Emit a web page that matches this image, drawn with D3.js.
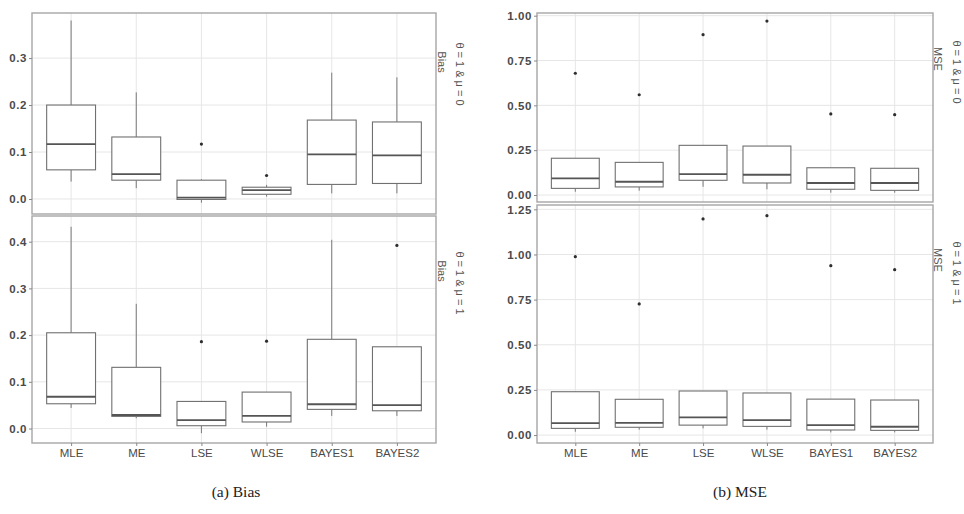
<!DOCTYPE html>
<html>
<head>
<meta charset="utf-8">
<script src="https://cdn.jsdelivr.net/npm/d3@7"></script>
<style>
  html, body { margin: 0; padding: 0; background: #fff; }
  svg { display: block; }
  .tick text { font-family: "Liberation Sans", Arial, sans-serif; }
</style>
</head>
<body>
<svg id="chart" width="964" height="514"></svg>
<script>
// Estimators compared on the x axis
const methods = ["MLE", "ME", "LSE", "WLSE", "BAYES1", "BAYES2"];

// Bias, theta = 1 & mu = 0 (box-plot summaries per estimator)
const biasMu0Low  = [0.037, 0.023, -0.008, 0.005, 0.012, 0.012];
const biasMu0Q1   = [0.062, 0.040, -0.001, 0.010, 0.031, 0.033];
const biasMu0Med  = [0.117, 0.053, 0.003, 0.019, 0.095, 0.093];
const biasMu0Q3   = [0.200, 0.132, 0.040, 0.025, 0.168, 0.164];
const biasMu0High = [0.380, 0.227, 0.042, 0.030, 0.269, 0.259];
const biasMu0Out  = [null, null, 0.117, 0.050, null, null];

// Bias, theta = 1 & mu = 1
const biasMu1Low  = [0.044, 0.022, -0.010, 0.004, 0.027, 0.027];
const biasMu1Q1   = [0.053, 0.026, 0.006, 0.014, 0.041, 0.038];
const biasMu1Med  = [0.068, 0.029, 0.018, 0.027, 0.052, 0.050];
const biasMu1Q3   = [0.205, 0.131, 0.058, 0.078, 0.191, 0.175];
const biasMu1High = [0.432, 0.267, 0.058, 0.078, 0.404, 0.175];
const biasMu1Out  = [null, null, 0.186, 0.187, null, 0.392];

// MSE, theta = 1 & mu = 0
const mseMu0Low  = [0.018, 0.024, 0.046, 0.032, 0.013, 0.013];
const mseMu0Q1   = [0.037, 0.045, 0.082, 0.067, 0.032, 0.026];
const mseMu0Med  = [0.093, 0.074, 0.117, 0.113, 0.067, 0.067];
const mseMu0Q3   = [0.205, 0.182, 0.277, 0.273, 0.152, 0.149];
const mseMu0High = [0.205, 0.182, 0.277, 0.273, 0.152, 0.149];
const mseMu0Out  = [0.679, 0.559, 0.894, 0.970, 0.452, 0.448];

// MSE, theta = 1 & mu = 1
const mseMu1Low  = [0.018, 0.030, 0.037, 0.030, 0.015, 0.015];
const mseMu1Q1   = [0.037, 0.043, 0.055, 0.048, 0.028, 0.026];
const mseMu1Med  = [0.066, 0.068, 0.098, 0.083, 0.055, 0.046];
const mseMu1Q3   = [0.240, 0.198, 0.244, 0.233, 0.199, 0.194];
const mseMu1High = [0.240, 0.198, 0.244, 0.233, 0.199, 0.194];
const mseMu1Out  = [0.988, 0.726, 1.197, 1.215, 0.938, 0.916];

// Axis ticks
const biasTicks0 = [0.0, 0.1, 0.2, 0.3];
const biasTicks1 = [0.0, 0.1, 0.2, 0.3, 0.4];
const mseTicks0  = [0.00, 0.25, 0.50, 0.75, 1.00];
const mseTicks1  = [0.00, 0.25, 0.50, 0.75, 1.00, 1.25];

function rows(low, q1, med, q3, high, out) {
  return methods.map((m, i) => ({ m, low: low[i], q1: q1[i], med: med[i], q3: q3[i], high: high[i], out: out[i] }));
}

const panels = [
  { x0: 32, x1: 436, y0: 13, y1: 214, domain: [-0.032, 0.396], ticks: biasTicks0, fmt: d3.format(".1f"),
    data: rows(biasMu0Low, biasMu0Q1, biasMu0Med, biasMu0Q3, biasMu0High, biasMu0Out), xAxis: false,
    strip: { measure: "Bias", mx: 442, my: 62, tx: 460, ty: 74, label: "θ = 1 & μ = 0" } },
  { x0: 32, x1: 436, y0: 216, y1: 443, domain: [-0.031, 0.455], ticks: biasTicks1, fmt: d3.format(".1f"),
    data: rows(biasMu1Low, biasMu1Q1, biasMu1Med, biasMu1Q3, biasMu1High, biasMu1Out), xAxis: true,
    strip: { measure: "Bias", mx: 442, my: 271, tx: 460, ty: 283, label: "θ = 1 & μ = 1" } },
  { x0: 537, x1: 933, y0: 13, y1: 202, domain: [-0.039, 1.015], ticks: mseTicks0, fmt: d3.format(".2f"),
    data: rows(mseMu0Low, mseMu0Q1, mseMu0Med, mseMu0Q3, mseMu0High, mseMu0Out), xAxis: false,
    strip: { measure: "MSE", mx: 938, my: 59, tx: 957, ty: 72, label: "θ = 1 & μ = 0" } },
  { x0: 537, x1: 933, y0: 205, y1: 443, domain: [-0.044, 1.274], ticks: mseTicks1, fmt: d3.format(".2f"),
    data: rows(mseMu1Low, mseMu1Q1, mseMu1Med, mseMu1Q3, mseMu1High, mseMu1Out), xAxis: true,
    strip: { measure: "MSE", mx: 938, my: 260, tx: 957, ty: 273, label: "θ = 1 & μ = 1" } }
];

const svg = d3.select("#chart");
const gridColor = "#e6e6e6";
const borderColor = "#a6a6a6";
const textColor = "#4a4a4a";

panels.forEach(p => {
  const x = d3.scalePoint().domain(methods).range([p.x0, p.x1]).padding(0.6);
  const y = d3.scaleLinear().domain(p.domain).range([p.y1, p.y0]);
  const bw = x.step() * 0.75;
  const g = svg.append("g");

  // grid
  g.selectAll(".hgrid").data(p.ticks).join("line")
    .attr("x1", p.x0).attr("x2", p.x1)
    .attr("y1", d => y(d)).attr("y2", d => y(d))
    .attr("stroke", gridColor).attr("stroke-width", 1);
  g.selectAll(".vgrid").data(methods).join("line")
    .attr("x1", d => x(d)).attr("x2", d => x(d))
    .attr("y1", p.y0).attr("y2", p.y1)
    .attr("stroke", gridColor).attr("stroke-width", 1);

  // boxes
  const box = g.selectAll(".box").data(p.data).join("g");
  box.append("line")
    .attr("x1", d => x(d.m)).attr("x2", d => x(d.m))
    .attr("y1", d => y(d.high)).attr("y2", d => y(d.q3))
    .attr("stroke", "#7a7a7a").attr("stroke-width", 1);
  box.append("line")
    .attr("x1", d => x(d.m)).attr("x2", d => x(d.m))
    .attr("y1", d => y(d.q1)).attr("y2", d => y(d.low))
    .attr("stroke", "#7a7a7a").attr("stroke-width", 1);
  box.append("rect")
    .attr("x", d => x(d.m) - bw / 2).attr("width", bw)
    .attr("y", d => y(d.q3)).attr("height", d => Math.max(0, y(d.q1) - y(d.q3)))
    .attr("fill", "#fff").attr("stroke", "#707070").attr("stroke-width", 1.1);
  box.append("line")
    .attr("x1", d => x(d.m) - bw / 2).attr("x2", d => x(d.m) + bw / 2)
    .attr("y1", d => y(d.med)).attr("y2", d => y(d.med))
    .attr("stroke", "#555").attr("stroke-width", 1.8);
  box.filter(d => d.out != null).append("circle")
    .attr("cx", d => x(d.m)).attr("cy", d => y(d.out))
    .attr("r", 1.6).attr("fill", "#2e2e2e");

  // panel border
  g.append("rect")
    .attr("x", p.x0).attr("y", p.y0)
    .attr("width", p.x1 - p.x0).attr("height", p.y1 - p.y0)
    .attr("fill", "none").attr("stroke", borderColor).attr("stroke-width", 1.4);

  // y axis
  const ya = g.append("g").attr("transform", `translate(${p.x0},0)`)
    .call(d3.axisLeft(y).tickValues(p.ticks).tickFormat(p.fmt).tickSize(3).tickPadding(2));
  ya.select(".domain").remove();
  ya.selectAll(".tick line").attr("stroke", "#888");
  ya.selectAll(".tick text").attr("fill", textColor).attr("font-size", 11.5)
    .attr("font-weight", "bold").attr("letter-spacing", 0.6);

  // x axis
  if (p.xAxis) {
    const xa = g.append("g").attr("transform", `translate(0,${p.y1})`)
      .call(d3.axisBottom(x).tickSize(3).tickPadding(3));
    xa.select(".domain").remove();
    xa.selectAll(".tick line").attr("stroke", "#888");
    xa.selectAll(".tick text").attr("fill", textColor).attr("font-size", 11.5);
  }

  // facet strip labels (rotated)
  const s = p.strip;
  g.append("text")
    .attr("transform", `translate(${s.mx},${s.my}) rotate(90)`)
    .attr("text-anchor", "middle").attr("dominant-baseline", "central")
    .attr("font-family", "Liberation Sans, Arial, sans-serif").attr("font-size", 11)
    .attr("fill", "#555").text(s.measure);
  g.append("text")
    .attr("transform", `translate(${s.tx},${s.ty}) rotate(90)`)
    .attr("text-anchor", "middle").attr("dominant-baseline", "central")
    .attr("font-family", "Liberation Sans, Arial, sans-serif").attr("font-size", 11)
    .attr("fill", "#555").text(s.label);
});

// sub-figure captions
const captions = [{ t: "(a) Bias", x: 236 }, { t: "(b) MSE", x: 740 }];
svg.selectAll(".cap").data(captions).join("text")
  .attr("x", d => d.x).attr("y", 497)
  .attr("text-anchor", "middle")
  .attr("font-family", "Liberation Serif, 'Times New Roman', serif")
  .attr("font-size", 15.5).attr("fill", "#222")
  .text(d => d.t);
</script>
</body>
</html>
